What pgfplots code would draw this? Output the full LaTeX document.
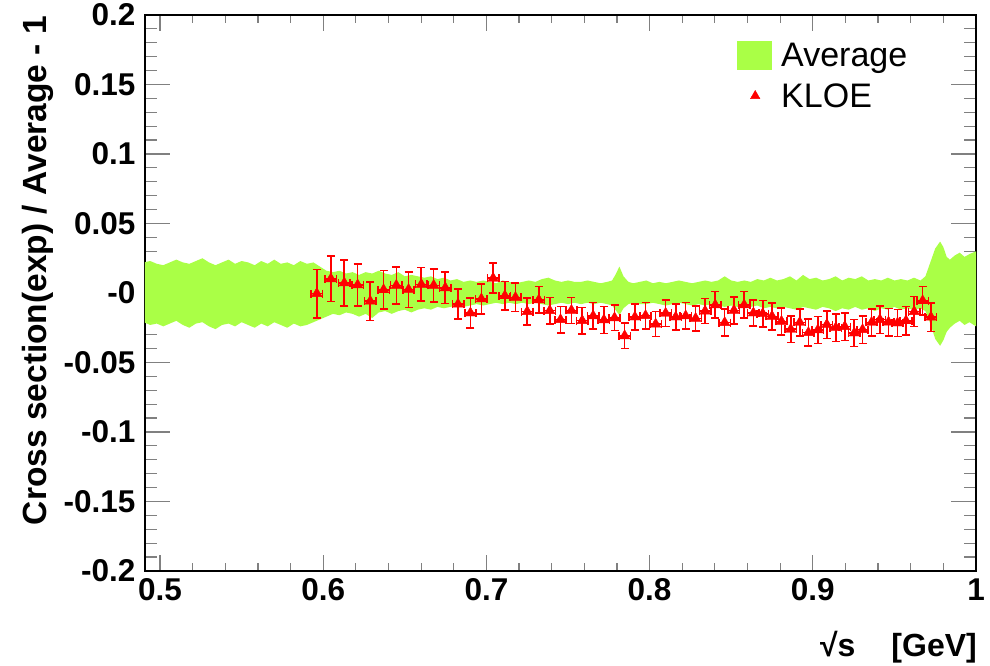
\documentclass[border=0pt]{standalone}
\usepackage{fontspec}
\setmainfont{Liberation Sans}
\usepackage{pgfplots}
\usepackage{pgfplotstable}
\pgfplotsset{compat=1.18}
\definecolor{bandgreen}{RGB}{170,255,70}

\pgfplotstableread{
x y ex ey
0.5961 -0.0004 0.0035 0.0174
0.6047 0.0102 0.0035 0.0164
0.6129 0.0072 0.0035 0.0165
0.6211 0.0058 0.0035 0.0151
0.6288 -0.0059 0.0035 0.0140
0.6370 0.0023 0.0035 0.0138
0.6448 0.0055 0.0035 0.0134
0.6523 0.0025 0.0035 0.0128
0.6601 0.0062 0.0035 0.0120
0.6677 0.0055 0.0035 0.0118
0.6748 0.0037 0.0035 0.0112
0.6826 -0.0080 0.0035 0.0107
0.6902 -0.0144 0.0035 0.0106
0.6969 -0.0043 0.0035 0.0108
0.7041 0.0106 0.0035 0.0108
0.7113 -0.0020 0.0035 0.0102
0.7178 -0.0032 0.0035 0.0102
0.7250 -0.0134 0.0035 0.0096
0.7321 -0.0050 0.0035 0.0096
0.7388 -0.0127 0.0035 0.0096
0.7454 -0.0192 0.0035 0.0094
0.7521 -0.0125 0.0035 0.0094
0.7587 -0.0199 0.0035 0.0096
0.7654 -0.0165 0.0035 0.0096
0.7720 -0.0194 0.0035 0.0096
0.7785 -0.0179 0.0035 0.0092
0.7847 -0.0308 0.0035 0.0090
0.7910 -0.0173 0.0035 0.0094
0.7975 -0.0163 0.0035 0.0094
0.8037 -0.0224 0.0035 0.0090
0.8098 -0.0146 0.0035 0.0096
0.8160 -0.0173 0.0035 0.0094
0.8221 -0.0165 0.0035 0.0096
0.8282 -0.0183 0.0035 0.0090
0.8340 -0.0130 0.0035 0.0090
0.8402 -0.0086 0.0035 0.0096
0.8460 -0.0213 0.0035 0.0096
0.8517 -0.0125 0.0035 0.0098
0.8579 -0.0086 0.0035 0.0096
0.8636 -0.0144 0.0035 0.0094
0.8693 -0.0149 0.0035 0.0094
0.8750 -0.0168 0.0035 0.0098
0.8808 -0.0204 0.0035 0.0098
0.8865 -0.0261 0.0035 0.0096
0.8920 -0.0212 0.0035 0.0097
0.8973 -0.0285 0.0035 0.0096
0.9031 -0.0266 0.0035 0.0096
0.9086 -0.0227 0.0035 0.0099
0.9141 -0.0250 0.0035 0.0099
0.9196 -0.0242 0.0035 0.0100
0.9254 -0.0288 0.0035 0.0098
0.9305 -0.0264 0.0035 0.0098
0.9360 -0.0212 0.0035 0.0097
0.9411 -0.0192 0.0035 0.0098
0.9464 -0.0210 0.0035 0.0099
0.9519 -0.0216 0.0035 0.0098
0.9571 -0.0200 0.0035 0.0102
0.9621 -0.0134 0.0035 0.0108
0.9673 -0.0056 0.0035 0.0102
0.9724 -0.0174 0.0035 0.0104
}\kloe

\begin{document}
\begin{tikzpicture}
\begin{axis}[
  at={(0,0)}, anchor=south west,
  scale only axis, width=831pt, height=556pt,
  xmin=0.4908, xmax=1.0, ymin=-0.2, ymax=0.2,
  axis line style={line width=1.4pt},
  xtick={0.5,0.6,0.7,0.8,0.9,1.0},
  xticklabels={0.5,0.6,0.7,0.8,0.9,1},
  ytick={-0.2,-0.15,-0.1,-0.05,0,0.05,0.1,0.15,0.2},
  yticklabels={-0.2,-0.15,-0.1,-0.05,-0,0.05,0.1,0.15,0.2},
  minor x tick num=4, minor y tick num=4,
  tick align=inside,
  xtick style={line width=1.2pt, /pgfplots/major tick length=16pt, /pgfplots/minor tick length=8pt},
  ytick style={line width=1.2pt, /pgfplots/major tick length=25pt, /pgfplots/minor tick length=12pt},
  minor tick style={line width=1.2pt},
  /pgf/number format/assume math mode=true,
  ticklabel style={font=\fontsize{31.5}{31.5}\selectfont\bfseries},
  xticklabel style={yshift=-4pt},
  yticklabel style={xshift=-6pt},
  xlabel={√s\hspace{36pt}[GeV]},
  xlabel style={font=\fontsize{32}{32}\selectfont\bfseries, at={(rel axis cs:1,0)}, anchor=base east, yshift=-85pt, inner sep=0pt, xshift=1pt},
  legend style={draw=none, fill=none, at={(rel axis cs:0.71,0.953)}, anchor=north west,
     font=\fontsize{34}{34}\selectfont, row sep=11pt, inner sep=0pt},
  legend cell align=left,
]
\addplot[fill=bandgreen, draw=none,
  legend image code/.code={\fill[bandgreen] (2pt,-14.5pt) rectangle (37pt,14.5pt); \path[draw=none,fill=none] (0pt,0pt) -- (44pt,0pt);}]
coordinates {
(0.490,0.022)(0.494,0.023)(0.498,0.021)(0.502,0.020)(0.506,0.022)(0.510,0.024)
(0.514,0.022)(0.518,0.021)(0.522,0.023)(0.526,0.025)(0.530,0.022)(0.534,0.020)
(0.538,0.022)(0.542,0.024)(0.546,0.021)(0.550,0.023)(0.554,0.022)(0.558,0.020)
(0.562,0.023)(0.566,0.021)(0.570,0.024)(0.574,0.021)(0.578,0.022)(0.582,0.020)
(0.586,0.023)(0.590,0.021)(0.594,0.022)(0.598,0.019)(0.602,0.016)(0.606,0.015)
(0.610,0.016)(0.614,0.014)(0.618,0.015)(0.622,0.013)(0.626,0.015)(0.630,0.014)
(0.634,0.016)(0.638,0.014)(0.642,0.013)(0.646,0.015)(0.650,0.012)(0.654,0.013)
(0.658,0.012)(0.662,0.011)(0.666,0.012)(0.670,0.010)(0.674,0.011)(0.678,0.009)
(0.682,0.010)(0.686,0.008)(0.690,0.009)(0.694,0.008)(0.698,0.009)(0.702,0.008)
(0.706,0.007)(0.710,0.009)(0.714,0.008)(0.718,0.007)(0.722,0.008)(0.726,0.009)
(0.730,0.008)(0.734,0.010)(0.738,0.011)(0.742,0.009)(0.746,0.008)(0.750,0.009)
(0.754,0.008)(0.758,0.008)(0.762,0.009)(0.766,0.008)(0.770,0.007)(0.774,0.008)
(0.777,0.009)(0.779,0.013)(0.7815,0.019)(0.784,0.012)(0.787,0.008)(0.790,0.007)
(0.794,0.008)(0.798,0.009)(0.802,0.007)(0.806,0.008)(0.810,0.007)(0.814,0.008)
(0.818,0.009)(0.822,0.008)(0.826,0.007)(0.830,0.008)(0.834,0.009)(0.838,0.008)
(0.842,0.009)(0.846,0.012)(0.850,0.009)(0.854,0.008)(0.858,0.009)(0.862,0.008)
(0.866,0.010)(0.870,0.009)(0.874,0.011)(0.878,0.009)(0.882,0.010)(0.886,0.012)
(0.890,0.009)(0.894,0.013)(0.898,0.010)(0.902,0.011)(0.906,0.009)(0.910,0.010)
(0.914,0.012)(0.918,0.009)(0.922,0.011)(0.926,0.010)(0.930,0.012)(0.934,0.009)
(0.938,0.010)(0.942,0.009)(0.946,0.011)(0.950,0.009)(0.954,0.010)(0.958,0.009)
(0.962,0.011)(0.966,0.009)(0.969,0.012)(0.972,0.022)(0.975,0.032)(0.978,0.037)
(0.980,0.033)(0.982,0.026)(0.984,0.024)(0.987,0.027)(0.990,0.029)(0.993,0.026)
(0.996,0.028)(1.000,0.030)
(1.000,-0.024)(0.996,-0.021)(0.993,-0.023)(0.990,-0.020)(0.987,-0.022)(0.984,-0.025)
(0.982,-0.028)(0.980,-0.034)(0.978,-0.038)(0.975,-0.033)(0.972,-0.022)(0.969,-0.013)
(0.966,-0.011)(0.962,-0.012)(0.958,-0.011)(0.954,-0.012)(0.950,-0.010)(0.946,-0.012)
(0.942,-0.011)(0.938,-0.013)(0.934,-0.011)(0.930,-0.012)(0.926,-0.010)(0.922,-0.012)
(0.918,-0.011)(0.914,-0.013)(0.910,-0.011)(0.906,-0.010)(0.902,-0.012)(0.898,-0.011)
(0.894,-0.010)(0.890,-0.012)(0.886,-0.011)(0.882,-0.010)(0.878,-0.011)(0.874,-0.010)
(0.870,-0.011)(0.866,-0.009)(0.862,-0.010)(0.858,-0.009)(0.854,-0.010)(0.850,-0.009)
(0.846,-0.010)(0.842,-0.009)(0.838,-0.008)(0.834,-0.009)(0.830,-0.008)(0.826,-0.009)
(0.822,-0.008)(0.818,-0.007)(0.814,-0.008)(0.810,-0.009)(0.806,-0.008)(0.802,-0.007)
(0.798,-0.008)(0.794,-0.008)(0.790,-0.007)(0.787,-0.008)(0.784,-0.011)(0.7815,-0.016)
(0.779,-0.012)(0.777,-0.009)(0.774,-0.008)(0.770,-0.007)(0.766,-0.008)(0.762,-0.007)
(0.758,-0.008)(0.754,-0.007)(0.750,-0.008)(0.746,-0.007)(0.742,-0.008)(0.738,-0.009)
(0.734,-0.008)(0.730,-0.007)(0.726,-0.008)(0.722,-0.007)(0.718,-0.008)(0.714,-0.007)
(0.710,-0.008)(0.706,-0.007)(0.702,-0.008)(0.698,-0.009)(0.694,-0.008)(0.690,-0.009)
(0.686,-0.010)(0.682,-0.009)(0.678,-0.010)(0.674,-0.011)(0.670,-0.010)(0.666,-0.012)
(0.662,-0.011)(0.658,-0.012)(0.654,-0.014)(0.650,-0.012)(0.646,-0.013)(0.642,-0.015)
(0.638,-0.013)(0.634,-0.014)(0.630,-0.018)(0.626,-0.015)(0.622,-0.017)(0.618,-0.015)
(0.614,-0.014)(0.610,-0.016)(0.606,-0.015)(0.602,-0.017)(0.598,-0.019)(0.594,-0.021)
(0.590,-0.023)(0.586,-0.024)(0.582,-0.022)(0.578,-0.025)(0.574,-0.023)(0.570,-0.021)
(0.566,-0.024)(0.562,-0.022)(0.558,-0.025)(0.554,-0.023)(0.550,-0.021)(0.546,-0.024)
(0.542,-0.022)(0.538,-0.023)(0.534,-0.026)(0.530,-0.024)(0.526,-0.021)(0.522,-0.022)
(0.518,-0.025)(0.514,-0.023)(0.510,-0.020)(0.506,-0.022)(0.502,-0.024)(0.498,-0.022)
(0.494,-0.023)(0.490,-0.021)
} -- cycle;
\addlegendentry{Average}
\addplot[only marks, mark=triangle*, mark size=6pt, color=red, draw=red, fill=red,
  error bars/x dir=both, error bars/x explicit,
  error bars/y dir=both, error bars/y explicit,
  error bars/error mark=|,
  error bars/error bar style={draw=red, color=red, line width=1.6pt},
  error bars/error mark options={draw=red, color=red, mark size=4pt, line width=1.6pt},
  legend image code/.code={\draw[red, fill=red] plot[mark=triangle*, mark size=5.5pt] coordinates {(20pt,0pt)}; \path[draw=none,fill=none] (0pt,0pt) -- (44pt,0pt);}]
  table[x=x, y=y, x error=ex, y error=ey] {\kloe};
\addlegendentry{KLOE}
\coordinate (tl) at (rel axis cs:0,1);
\end{axis}
\node[rotate=90, anchor=base east, font=\fontsize{33.5}{33.5}\selectfont\bfseries, inner sep=0pt]
  at ([xshift=-98pt,yshift=-1pt]tl) {Cross section(exp) / Average - 1};
\pgfresetboundingbox
\path[use as bounding box] (-145pt,-95pt) rectangle (845pt,571pt);
\end{tikzpicture}
\end{document}
